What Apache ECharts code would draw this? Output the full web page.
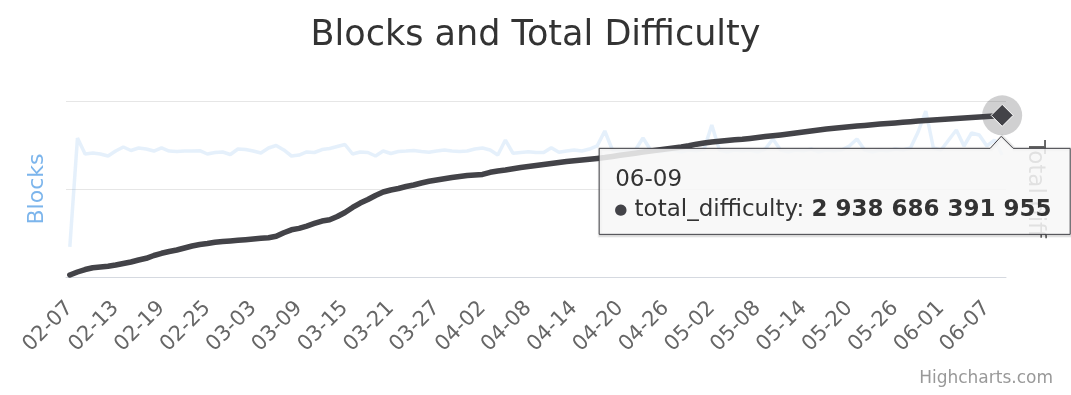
<!DOCTYPE html>
<html><head><meta charset="utf-8">
<script src="https://cdn.jsdelivr.net/npm/echarts@6/dist/echarts.min.js"></script>
<style>html,body{margin:0;padding:0;background:#fff}#c{width:1071px;height:395px}</style>
</head><body><div id="c"></div>
<script>
const titleText = 'Blocks and Total Difficulty';
const leftAxisName = 'Blocks';
const rightAxisName = 'Total diff';
const creditText = 'Highcharts.com';
const monthRanges = [['02', 7, 28], ['03', 1, 31], ['04', 1, 30], ['05', 1, 31], ['06', 1, 9]];
const categories = [];
for (const [m, a, b] of monthRanges) for (let d = a; d <= b; d++) categories.push(m + '-' + String(d).padStart(2, '0'));

const blocks = [
  1364, 6318, 5591, 5636, 5591, 5500, 5727, 5909, 5750, 5864,
  5818, 5727, 5864, 5727, 5705, 5727, 5727, 5741, 5591, 5659,
  5682, 5568, 5818, 5795, 5727, 5636, 5864, 5977, 5773, 5500,
  5545, 5682, 5659, 5795, 5841, 5932, 6023, 5591, 5682, 5659,
  5500, 5727, 5614, 5705, 5727, 5750, 5705, 5668, 5727, 5773,
  5727, 5705, 5727, 5818, 5864, 5773, 5545, 6227, 5623, 5659,
  5695, 5659, 5659, 5877, 5668, 5727, 5773, 5727, 5818, 5955,
  6636, 5773, 5682, 5727, 5773, 6318, 5773, 5682, 5727, 5773,
  5682, 5773, 5727, 5818, 6909, 5773, 5682, 5773, 5727, 5773,
  5682, 5818, 6273, 5773, 5682, 5773, 5727, 5818, 5682, 5773,
  5727, 5773, 5955, 6273, 5773, 5682, 5773, 5727, 5818, 5773,
  5864, 6591, 7545, 5864, 5773, 6227, 6682, 5955, 6545, 6455,
  5955, 6227, 5545
];

// total difficulty, in billions
const totalDifficultyBn = [
  36, 91, 136, 169, 182, 196, 218, 245, 273, 309,
  340, 391, 431, 464, 491, 527, 564, 591, 609, 631,
  645, 655, 667, 678, 691, 704, 715, 740, 805, 858,
  885, 927, 973, 1018, 1040, 1100, 1173, 1264, 1345, 1409,
  1482, 1545, 1582, 1609, 1645, 1673, 1709, 1740, 1764, 1787,
  1809, 1827, 1845, 1855, 1864, 1904, 1927, 1945, 1967, 1991,
  2009, 2027, 2045, 2064, 2082, 2100, 2113, 2127, 2142, 2156,
  2171, 2191, 2213, 2233, 2251, 2271, 2291, 2309, 2327, 2345,
  2364, 2387, 2415, 2436, 2455, 2469, 2482, 2495, 2505, 2520,
  2536, 2553, 2567, 2582, 2600, 2618, 2636, 2655, 2673, 2691,
  2705, 2718, 2731, 2744, 2756, 2769, 2782, 2793, 2802, 2813,
  2824, 2835, 2844, 2853, 2862, 2871, 2880, 2889, 2898, 2910,
  2920, 2929, 2938.686391955
];

const FONT = '"DejaVu Sans", Verdana, sans-serif';
const lastIdx = categories.length - 1;
const lastVal = totalDifficultyBn[lastIdx];

const chart = echarts.init(document.getElementById('c'), null, { renderer: 'canvas' });
const option = {
  animation: false,
  backgroundColor: '#ffffff',
  title: {
    text: titleText, left: 'center', top: 13,
    textStyle: { fontFamily: FONT, fontSize: 35, fontWeight: 'normal', color: '#333333' }
  },
  grid: { left: 66, right: 65, top: 101, bottom: 118 },
  xAxis: {
    type: 'category', data: categories, boundaryGap: true,
    axisLine: { lineStyle: { color: '#d5d9e0', width: 1 } },
    axisTick: { show: false },
    axisLabel: { interval: 5, rotate: 45, color: '#666666', fontFamily: FONT, fontSize: 21, margin: 28 }
  },
  yAxis: [
    {
      type: 'value', min: 0, max: 8000, interval: 4000,
      name: leftAxisName, nameLocation: 'middle', nameGap: 18, nameRotate: 90,
      nameTextStyle: { color: '#7cb5ec', fontFamily: FONT, fontSize: 22 },
      axisLabel: { show: false }, axisLine: { show: false }, axisTick: { show: false },
      splitLine: { lineStyle: { color: '#e6e6e6', width: 1 } }
    },
    {
      type: 'value', min: 0, max: 3200, position: 'right',
      name: rightAxisName, nameLocation: 'middle', nameGap: 17, nameRotate: -90,
      nameTextStyle: { color: '#666666', fontFamily: FONT, fontSize: 23 },
      axisLabel: { show: false }, axisLine: { show: false }, axisTick: { show: false },
      splitLine: { show: false }
    }
  ],
  series: [
    {
      name: 'blocks', type: 'line', yAxisIndex: 0, data: blocks,
      showSymbol: false, symbol: 'none', z: 2,
      lineStyle: { color: '#7cb5ec', width: 3.5, opacity: 0.2 }
    },
    {
      name: 'total_difficulty', type: 'line', yAxisIndex: 1, data: totalDifficultyBn,
      showSymbol: false, symbol: 'none', z: 3,
      lineStyle: { color: '#434348', width: 5.5, join: 'round', cap: 'round' },
      markPoint: {
        silent: true, animation: false,
        label: { show: false },
        data: [
          { coord: [categories[lastIdx], lastVal], symbol: 'circle', symbolSize: 40,
            itemStyle: { color: 'rgba(67,67,72,0.25)' } },
          { coord: [categories[lastIdx], lastVal], symbol: 'diamond', symbolSize: 22,
            itemStyle: { color: '#434348', borderColor: '#ffffff', borderWidth: 1 } }
        ]
      }
    }
  ]
};
chart.setOption(option);

function fmt(n) { return String(Math.round(n)).replace(/\B(?=(\d{3})+(?!\d))/g, ' '); }

const p = chart.convertToPixel({ xAxisIndex: 0, yAxisIndex: 1 }, [categories[lastIdx], lastVal]);
const bx0 = p[0] - 403, bx1 = p[0] + 68, by0 = p[1] + 33, by1 = p[1] + 119;
const ax = p[0] - 1, ay = p[1] + 21;
const callout = [[bx0, by0], [ax - 11, by0], [ax, ay], [ax + 12, by0], [bx1, by0], [bx1, by1], [bx0, by1]];
const shifted = callout.map(([x, y]) => [x + 1, y + 1]);
chart.setOption({
  graphic: [
    { type: 'polygon', z: 98, shape: { points: shifted }, style: { fill: 'none', stroke: 'rgba(0,0,0,0.05)', lineWidth: 5 } },
    { type: 'polygon', z: 99, shape: { points: shifted }, style: { fill: 'none', stroke: 'rgba(0,0,0,0.1)', lineWidth: 3 } },
    {
      type: 'polygon', z: 100,
      shape: { points: callout },
      style: { fill: 'rgba(247,247,247,0.85)', stroke: '#434348', lineWidth: 1 }
    },
    {
      type: 'text', z: 101, x: bx0 + 16, y: p[1] + 65,
      style: { text: categories[lastIdx], fontFamily: FONT, fontSize: 23, fill: '#333333', verticalAlign: 'middle', align: 'left' }
    },
    {
      type: 'text', z: 101, x: bx0 + 15, y: p[1] + 95,
      style: {
        text: '{d|●} total_difficulty: {b|' + fmt(lastVal * 1e9) + '}',
        fontFamily: FONT, fontSize: 23, fill: '#333333', verticalAlign: 'middle', align: 'left',
        rich: {
          d: { fill: '#434348', fontSize: 15, fontFamily: FONT },
          b: { fontWeight: 'bold', fontSize: 23, fill: '#333333', fontFamily: FONT }
        }
      }
    },
    {
      type: 'text', right: 18, top: 370,
      style: { text: creditText, fontFamily: FONT, fontSize: 17, fill: '#999999' }
    }
  ]
});
</script>
</body></html>
